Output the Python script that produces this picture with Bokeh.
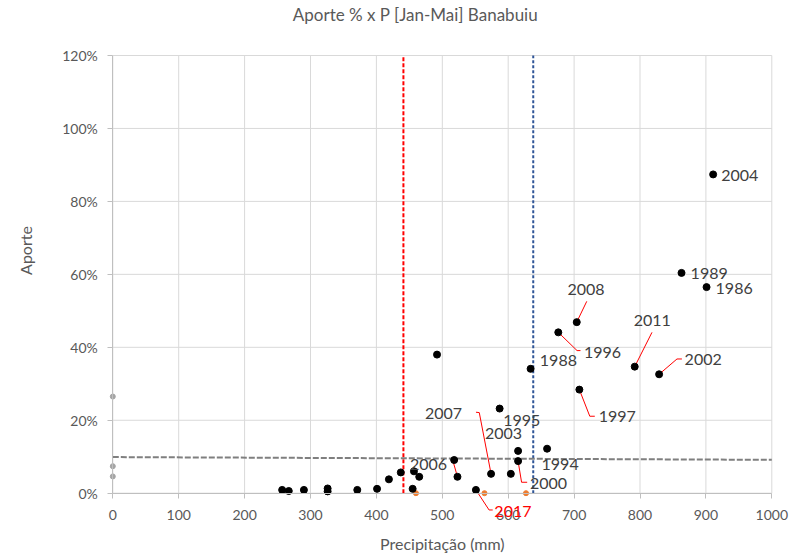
import math
from bokeh.plotting import figure
from bokeh.models import Label, PrintfTickFormatter, FixedTicker, Range1d
from bokeh.embed import file_html
from bokeh.resources import INLINE

# ---- data ----
precip = [257, 267, 290, 326, 326, 371, 401, 419, 437, 455, 457, 465, 492, 518, 523,
          551, 574, 587, 604, 615, 615, 634, 659, 676, 704, 708, 792, 829, 863, 901, 911]
aporte = [0.9, 0.6, 0.9, 1.3, 0.5, 0.9, 1.2, 3.8, 5.7, 1.2, 6.0, 4.5, 38.0, 9.1, 4.5,
          0.9, 5.3, 23.2, 5.3, 11.6, 8.8, 34.1, 12.2, 44.1, 46.9, 28.4, 34.7, 32.6, 60.4, 56.5, 87.4]

orange_precip = [460, 564, 627]
orange_aporte = [0.0, 0.0, 0.0]

grey_precip = [0, 0, 0]
grey_aporte = [26.5, 7.4, 4.6]

trend_x = [0, 1000]
trend_y = [9.9, 9.15]

red_line_p = 441
blue_line_p = 638

label_years = ["2006", "2017", "2007", "1995", "2003", "2000", "1988", "1994", "1996",
               "2008", "1997", "2011", "2002", "1989", "1986", "2004"]
label_index = [14, 15, 16, 17, 19, 20, 21, 22, 23, 24, 25, 26, 27, 28, 29, 30]

x_ticks = [0, 100, 200, 300, 400, 500, 600, 700, 800, 900, 1000]
y_ticks = [0, 20, 40, 60, 80, 100, 120]
X0, X1 = 0, 1000
Y0, Y1 = 0, 120

# ---- label layout (offsets relative to the point, data units) ----
label_offset = {
    "2006": (-72, 3.3), "2017": (28, -5.8), "2007": (-100.2, 16.5), "1995": (5.4, -3.3),
    "2003": (-50.3, 4.7), "2000": (18, -6.2), "1988": (14, 2.3), "1994": (-8.4, -4.3),
    "1996": (39, -5.4), "2008": (-14, 8.9), "1997": (29.4, -7.5), "2011": (-1.5, 12.7),
    "2002": (38.7, 4.0), "1989": (13.8, -0.2), "1986": (13.7, -0.4), "2004": (12.3, -0.4),
}
leader_path = {
    "2006": [(-6.3, 4.0)],
    "2007": [(-17.9, 16.8), (-22.9, 16.9)],
    "2017": [(20, -5.5), (25.5, -5.5)],
    "2000": [(5.3, -5.8), (13.8, -5.8)],
    "2008": [(15.2, 5.7)],
    "1996": [(28.5, -5.0), (33.7, -5.0)],
    "1997": [(15.8, -7.3), (23.4, -7.3)],
    "2011": [(26.2, 9.4)],
    "2002": [(27.1, 4.2), (34.6, 4.2)],
}
red_labels = {"2017"}

FONT = "Lato"
GREY_TXT = "#595959"
GRID = "#d9d9d9"
AXIS = "#bfbfbf"

# ---- layout: the frame covers the whole canvas; plot area placed by pixel edges ----
W, H = 805, 558
PL, PR, PT, PB = 112.3, 771.3, 55.0, 492.7   # plot-area edges in canvas pixels
sx = (PR - PL) / (X1 - X0)
sy = (PB - PT) / (Y1 - Y0)
xr = Range1d(X0 - PL / sx, X1 + (W - PR) / sx)
yr = Range1d(Y0 - (H - PB) / sy, Y1 + PT / sy)

p = figure(width=W, height=H, output_backend="svg", toolbar_location=None,
           x_range=xr, y_range=yr,
           min_border_left=0, min_border_right=0, min_border_top=0, min_border_bottom=0)
p.outline_line_color = None
p.background_fill_color = "white"
p.border_fill_color = "white"
p.xgrid.visible = False
p.ygrid.visible = False

# grid lines limited to the plot area
p.segment(x0=x_ticks, y0=[Y0] * len(x_ticks), x1=x_ticks, y1=[Y1] * len(x_ticks),
          line_color=GRID, line_width=1)
p.segment(x0=[X0] * len(y_ticks), y0=y_ticks, x1=[X1] * len(y_ticks), y1=y_ticks,
          line_color=GRID, line_width=1)

# axes fixed at the origin
p.xaxis.fixed_location = 0
p.yaxis.fixed_location = 0
p.xaxis.bounds = (X0, X1)
p.yaxis.bounds = (Y0, Y1)
p.xaxis.ticker = FixedTicker(ticks=x_ticks)
p.yaxis.ticker = FixedTicker(ticks=y_ticks)
p.yaxis.formatter = PrintfTickFormatter(format="%d%%")
for ax in (p.xaxis[0], p.yaxis[0]):
    ax.axis_line_color = AXIS
    ax.major_tick_line_color = AXIS
    ax.minor_tick_line_color = None
    ax.major_tick_out = 5
    ax.major_tick_in = 0
    ax.major_label_text_font = FONT
    ax.major_label_text_font_size = "14px"
    ax.major_label_text_color = GREY_TXT
p.xaxis.major_label_standoff = 12
p.yaxis.major_label_standoff = 10

# reference lines
p.line([red_line_p, red_line_p], [Y0, Y1], line_color="#FF0000", line_dash="4 2", line_width=2)
p.line([blue_line_p, blue_line_p], [Y0, Y1], line_color="#2F5597", line_dash="3 2", line_width=2)
p.line(trend_x, trend_y, line_color="#7f7f7f", line_dash="6 2", line_width=2)

# leaders
lx_all, ly_all = [], []
for yr_, i in zip(label_years, label_index):
    if yr_ in leader_path:
        px_, py_ = precip[i], aporte[i]
        pts = [(px_, py_)] + [(px_ + dx, py_ + dy) for dx, dy in leader_path[yr_]]
        lx_all.append([q[0] for q in pts])
        ly_all.append([q[1] for q in pts])
p.multi_line(lx_all, ly_all, line_color="#FF0000", line_width=1)

# points
p.scatter(grey_precip, grey_aporte, size=5, color="#a5a5a5")
p.scatter(orange_precip, orange_aporte, size=5, color="#ED7D31")
p.scatter(precip, aporte, size=7, color="black")

# data labels
for yr_, i in zip(label_years, label_index):
    dx, dy = label_offset[yr_]
    p.add_layout(Label(x=precip[i] + dx, y=aporte[i] + dy, text=yr_, text_font=FONT,
                       text_font_size="16px", text_baseline="middle", text_align="left",
                       text_color="#FF0000" if yr_ in red_labels else "#404040"))

# title and axis titles (screen units, from bottom-left of canvas)
p.add_layout(Label(x=415, y=H - 14, x_units="screen", y_units="screen",
                   text="Aporte % x P [Jan-Mai] Banabuiu", text_font=FONT,
                   text_font_size="17px", text_color=GREY_TXT,
                   text_align="center", text_baseline="middle"))
p.add_layout(Label(x=(PL + PR) / 2, y=H - 543, x_units="screen", y_units="screen",
                   text="Precipitação (mm)", text_font=FONT,
                   text_font_size="16px", text_color=GREY_TXT,
                   text_align="center", text_baseline="middle"))
p.add_layout(Label(x=25, y=H - 250, x_units="screen", y_units="screen",
                   text="Aporte", text_font=FONT, angle=math.pi / 2,
                   text_font_size="16px", text_color=GREY_TXT,
                   text_align="center", text_baseline="middle"))

open("out.html", "w").write(file_html(p, INLINE))
